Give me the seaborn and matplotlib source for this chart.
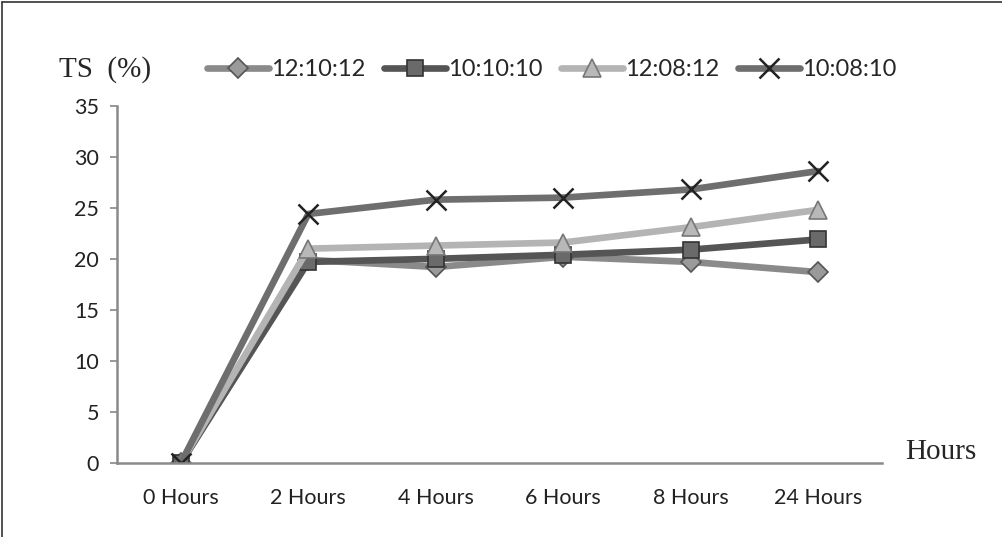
import matplotlib
matplotlib.use("Agg")
import matplotlib.pyplot as plt
import seaborn as sns
import pandas as pd
from matplotlib.lines import Line2D

categories = ["0 Hours", "2 Hours", "4 Hours", "6 Hours", "8 Hours", "24 Hours"]
s_121012 = [0, 19.9, 19.2, 20.2, 19.7, 18.7]
s_101010 = [0, 19.7, 20.0, 20.4, 20.9, 21.9]
s_120812 = [0, 21.0, 21.3, 21.6, 23.1, 24.8]
s_100810 = [0, 24.4, 25.8, 26.0, 26.8, 28.6]
series_names = ["12:10:12", "10:10:10", "12:08:12", "10:08:10"]
yticks = [0, 5, 10, 15, 20, 25, 30, 35]

sns.set_style("white")
plt.rcParams['font.family'] = ['Lato', 'DejaVu Sans']

df = pd.DataFrame({
    "time": categories * 4,
    "value": s_121012 + s_101010 + s_120812 + s_100810,
    "series": sum([[n] * len(categories) for n in series_names], []),
})

styles = {
    "12:10:12": dict(color="#8a8a8a", marker="D", ms=10, mec="#555555", mfc="#9a9a9a"),
    "10:10:10": dict(color="#555555", marker="s", ms=12, mec="#333333", mfc="#6a6a6a"),
    "12:08:12": dict(color="#b4b4b4", marker="^", ms=13, mec="#777777", mfc="#b8b8b8"),
    "10:08:10": dict(color="#6e6e6e", marker="x", ms=14, mec="#222222", mfc="none"),
}

fig = plt.figure(figsize=(10.02, 5.37), dpi=100)
ax = fig.add_axes([0.117, 0.138, 0.763, 0.665])

for name in series_names:
    st = styles[name]
    sub = df[df["series"] == name]
    sns.lineplot(data=sub, x="time", y="value", ax=ax, color=st["color"], lw=4.8,
                 marker=st["marker"], markersize=st["ms"], markeredgecolor=st["mec"],
                 markerfacecolor=st["mfc"], markeredgewidth=1.8 if st["marker"] == "x" else 1.2,
                 sort=False, legend=False)

ax.set_xlim(-0.5, len(categories) - 0.5)
ax.set_ylim(0, 35)
ax.set_yticks(yticks)
ax.set_yticklabels([str(v) for v in yticks], fontsize=15.5, color="#222222")
ax.set_xticks(range(len(categories)))
ax.set_xticklabels(categories, fontsize=15.5, color="#222222")
ax.set_xticks([i - 0.5 for i in range(len(categories) + 1)], minor=True)
ax.tick_params(axis="x", which="major", length=0, pad=18)
ax.tick_params(axis="x", which="minor", length=5, width=1.2, color="#888888", direction="out")
ax.tick_params(axis="y", length=5, width=1.2, color="#888888", direction="out", pad=8, left=True)
ax.set_xlabel("")
ax.set_ylabel("")
for s in ["top", "right"]:
    ax.spines[s].set_visible(False)
for s in ["left", "bottom"]:
    ax.spines[s].set_color("#8a8a8a")
    ax.spines[s].set_linewidth(1.8)

handles = []
for name in series_names:
    st = styles[name]
    handles.append(Line2D([0], [0], color=st["color"], lw=4.8, marker=st["marker"],
                          markersize=st["ms"], markeredgecolor=st["mec"],
                          markerfacecolor=st["mfc"],
                          markeredgewidth=1.8 if st["marker"] == "x" else 1.2))
fig.legend(handles, series_names, loc="center left", bbox_to_anchor=(0.207, 0.87),
           ncol=4, frameon=False, fontsize=17, handlelength=2.6, handletextpad=0.1,
           columnspacing=0.8, borderaxespad=0, borderpad=0)

fig.text(0.059, 0.87, "TS  (%)", fontsize=21, family="Liberation Serif", va="center", ha="left")
fig.text(0.903, 0.158, "Hours", fontsize=21, family="Liberation Serif", va="center", ha="left")

fig.add_artist(Line2D([0.002, 0.002], [0, 0.996], transform=fig.transFigure, color="#333333", lw=1.2))
fig.add_artist(Line2D([0.002, 1.0], [0.996, 0.996], transform=fig.transFigure, color="#333333", lw=1.2))

fig.savefig("out.png", dpi=100)
